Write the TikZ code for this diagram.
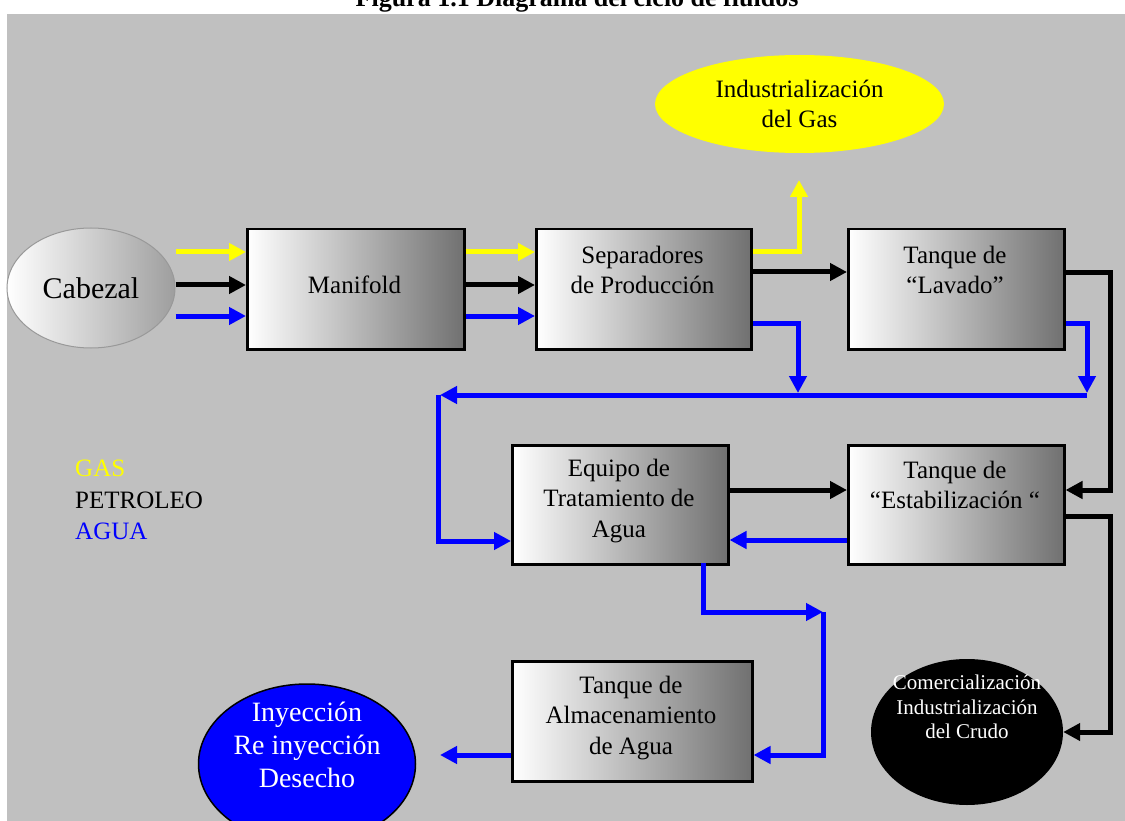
\documentclass[tikz,border=0pt]{standalone}
\usepackage{fontspec}
\setmainfont{Liberation Serif}
\usetikzlibrary{arrows.meta,shapes.geometric}
\definecolor{panel}{RGB}{192,192,192}
\definecolor{gasY}{RGB}{255,255,0}
\definecolor{watB}{RGB}{0,0,255}
\begin{document}
\begin{tikzpicture}[x=1pt,y=-1pt,
  flow/.style={line width=5pt, -{Triangle[length=17pt,width=17pt]}},
  gas/.style={draw=gasY},
  oil/.style={draw=black},
  water/.style={draw=watB},
  box/.style={draw=black, line width=2.5pt, left color=white, right color=black!56,
    anchor=north west, inner sep=0pt},
  txt/.style={align=center, font=\fontsize{25}{30.5}\selectfont, inner sep=0pt},
  legend/.style={anchor=west, font=\fontsize{25}{30}\selectfont, inner sep=0pt},
]
\useasboundingbox (0,0) rectangle (1125,821);
\fill[panel] (7,14) rectangle (1125,821);
\node[font=\bfseries\fontsize{26}{30}\selectfont, anchor=base, inner sep=0pt] (title) at (577,7)
  {Figura 1.1 Diagrama del ciclo de fluidos};

% sources and destinations
\node[ellipse, draw=black!40, line width=1pt, left color=white, right color=black!38,
  minimum width=168pt, minimum height=120pt, inner sep=0pt,
  font=\fontsize{30}{34}\selectfont] (cab) at (91,288) {Cabezal};
\node[ellipse, fill=gasY, minimum width=289pt, minimum height=98pt, inner sep=0pt,
  txt] (gasind) at (799.5,104) {Industrialización\\del Gas};
\node[ellipse, fill=watB, draw=black, line width=1.5pt, minimum width=217pt,
  minimum height=160pt, inner sep=0pt] (iny) at (307,764) {};
\node[txt, text=white, font=\fontsize{28}{33}\selectfont] (inyT) at (307,745)
  {Inyección\\Re inyección\\Desecho};
\node[ellipse, fill=black, minimum width=192pt, minimum height=146pt, inner sep=0pt]
  (com) at (967,732) {};
\node[txt, text=white, font=\fontsize{21}{24.3}\selectfont] (comT) at (967,707)
  {Comercialización\\Industrialización\\del Crudo};

% process units
\node[box, minimum width=217pt, minimum height=120pt] (man) at (246,228) {};
\node[box, minimum width=215pt, minimum height=120pt] (sep) at (535,228) {};
\node[box, minimum width=216pt, minimum height=120pt] (lav) at (847,228) {};
\node[box, minimum width=216pt, minimum height=119pt] (eq)  at (511,444) {};
\node[box, minimum width=216pt, minimum height=119pt] (est) at (847,444) {};
\node[box, minimum width=240pt, minimum height=120pt] (alm) at (511,660) {};

\node[txt] (manT) at (354.5,285) {Manifold};
\node[txt] (sepT) at (642.5,270) {Separadores\\de Producción};
\node[txt] (lavT) at (955,270) {Tanque de\\“Lavado”};
\node[txt] (eqT)  at (619,501) {Equipo de\\Tratamiento de\\Agua};
\node[txt] (estT) at (955,485) {Tanque de\\“Estabilización “};
\node[txt] (almT) at (631,718) {Tanque de\\Almacenamiento\\de Agua};

% legend
\node[legend, text=gasY] (lgGas) at (75,468) {GAS};
\node[legend] (lgOil) at (75,500) {PETROLEO};
\node[legend, text=watB] (lgWat) at (75,531) {AGUA};

% free ends of the pipes
\coordinate (gasUp)   at (799,180);
\coordinate (sepDrop) at (798,393);
\coordinate (lavDrop) at (1087,393);
\coordinate (hdrR)    at (1087,395);
\coordinate (hdrL)    at (440,395);
\coordinate (hdrC)    at (438,395);
\coordinate (tee)     at (823,612);
\coordinate (outIny)  at (440,755);

% Cabezal -> Manifold
\draw[flow, gas]   (cab.east |- 0,252) -- (man.west |- 0,252);
\draw[flow, oil]   (cab.east |- 0,285) -- (man.west |- 0,285);
\draw[flow, water] (cab.east |- 0,316) -- (man.west |- 0,316);
% Manifold -> Separadores
\draw[flow, gas]   (man.east |- 0,252) -- (sep.west |- 0,252);
\draw[flow, oil]   (man.east |- 0,285) -- (sep.west |- 0,285);
\draw[flow, water] (man.east |- 0,316) -- (sep.west |- 0,316);
% Separadores outlets
\draw[flow, gas]   (sep.east |- 0,252) -- (gasUp |- 0,252) -- (gasUp);
\draw[flow, oil]   (sep.east |- 0,272) -- (lav.west |- 0,272);
\draw[flow, water] (sep.east |- 0,323) -- (sepDrop |- 0,323) -- (sepDrop);
% Tanque de Lavado outlets
\draw[flow, water] (lav.east |- 0,323) -- (lavDrop |- 0,323) -- (lavDrop);
\draw[flow, oil]   (lav.east |- 0,273) -- (1110,273) -- (1110,490) -- (est.east |- 0,490);
% water header to the treatment unit
\draw[flow, water] (hdrR) -- (hdrL);
\draw[flow, water] (hdrC) -- (hdrC |- 0,541) -- (eq.west |- 0,541);
% between treatment and stabilisation
\draw[flow, oil]   (eq.east |- 0,490) -- (est.west |- 0,490);
\draw[flow, water] (est.west |- 0,540) -- (eq.east |- 0,540);
% crude to market
\draw[flow, oil]   (est.east |- 0,516) -- (1110,516) -- (1110,732) -- (com.east);
% treated water to storage
\draw[flow, water] (703,563) -- (703,612) -- (tee);
\draw[flow, water] (tee) -- (tee |- 0,755) -- (alm.east |- 0,755);
% storage to injection
\draw[flow, water] (alm.west |- 0,755) -- (outIny);
\end{tikzpicture}
\end{document}
